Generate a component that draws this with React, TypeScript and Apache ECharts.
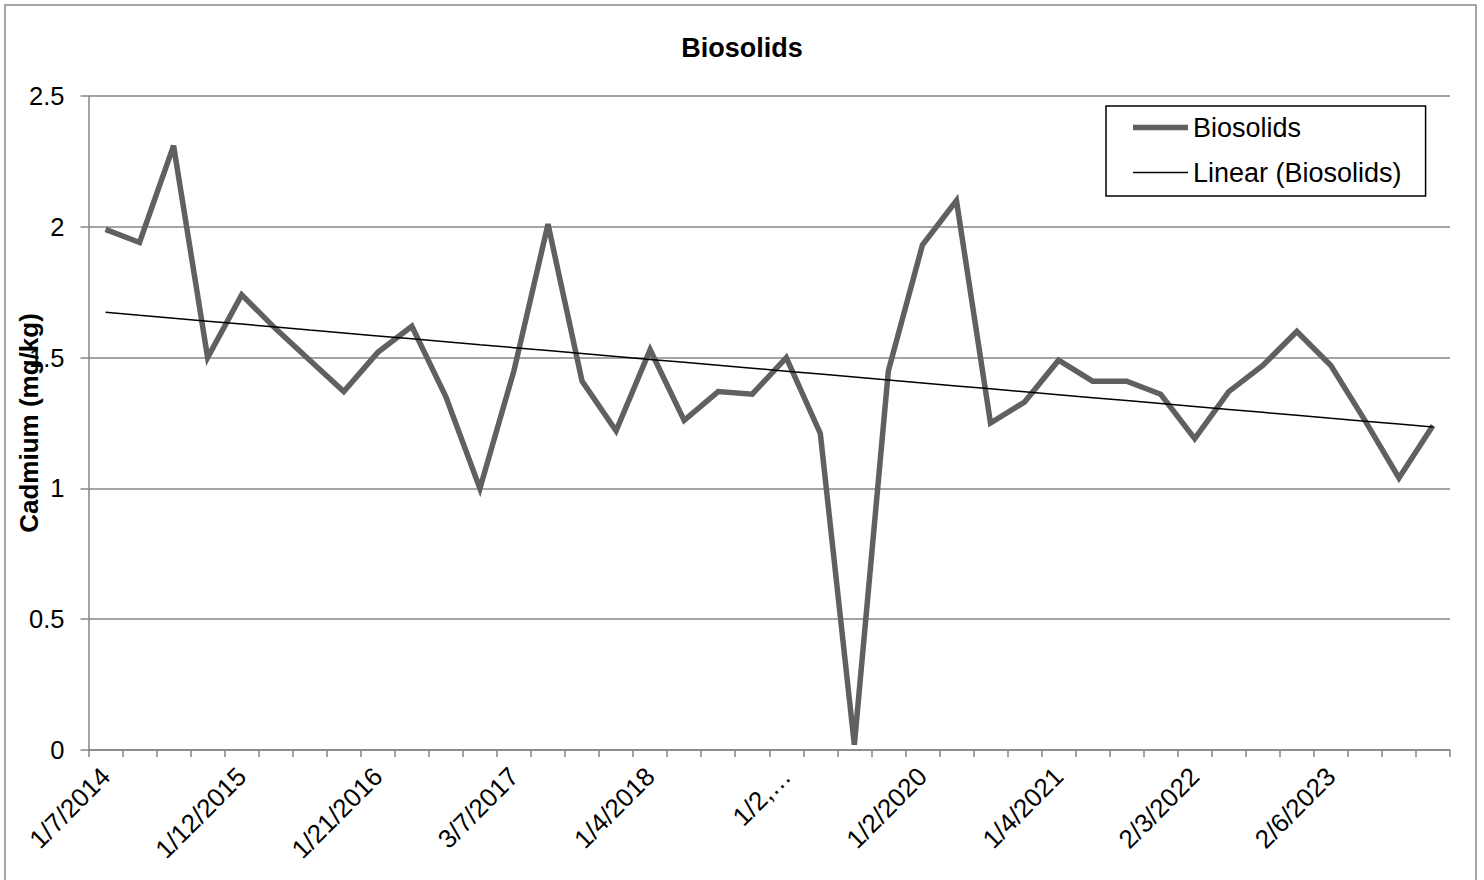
import React, { useEffect, useRef } from "react";
import * as echarts from "echarts";

// Category labels (only every 4th sample date is printed on the axis)
const categories: string[] = [
  "1/7/2014", "", "", "",
  "1/12/2015", "", "", "",
  "1/21/2016", "", "", "",
  "3/7/2017", "", "", "",
  "1/4/2018", "", "", "",
  "1/2,…", "", "", "",
  "1/2/2020", "", "", "",
  "1/4/2021", "", "", "",
  "2/3/2022", "", "", "",
  "2/6/2023", "", "", "",
];

// Cadmium (mg/kg) values
const biosolids: number[] = [
  1.99, 1.94, 2.31, 1.5, 1.74, 1.61, 1.49, 1.37, 1.52, 1.62,
  1.35, 1.0, 1.45, 2.01, 1.41, 1.22, 1.53, 1.26, 1.37, 1.36,
  1.5, 1.21, 0.02, 1.45, 1.93, 2.1, 1.25, 1.33, 1.49, 1.41,
  1.41, 1.36, 1.19, 1.37, 1.47, 1.6, 1.47, 1.26, 1.04, 1.24,
];

const yTicks = { min: 0, max: 2.5, interval: 0.5 };

function linearTrend(values: number[]): number[] {
  const n = values.length;
  let sx = 0, sy = 0, sxx = 0, sxy = 0;
  values.forEach((v, i) => {
    const x = i + 1;
    sx += x; sy += v; sxx += x * x; sxy += x * v;
  });
  const slope = (n * sxy - sx * sy) / (n * sxx - sx * sx);
  const intercept = (sy - slope * sx) / n;
  return values.map((_, i) => +(intercept + slope * (i + 1)).toFixed(4));
}

const FONT = "'Liberation Sans', Arial, sans-serif";

export default function App() {
  const ref = useRef<HTMLDivElement>(null);
  useEffect(() => {
    document.body.style.margin = "0";
    if (!ref.current) return;
    const chart = echarts.init(ref.current, undefined, { renderer: "svg" });
    const trend = linearTrend(biosolids);
    chart.setOption({
      animation: false,
      backgroundColor: "#ffffff",
      textStyle: { fontFamily: FONT },
      title: {
        text: "Biosolids",
        left: "center",
        top: 29,
        textStyle: { fontFamily: FONT, fontSize: 27, fontWeight: "bold", color: "#000" },
      },
      graphic: [
        {
          type: "rect",
          shape: { x: 5, y: 5, width: 1471, height: 880 },
          style: { fill: "none", stroke: "#8a8a8a", lineWidth: 1.5 },
          silent: true,
        },
      ],
      legend: {
        orient: "vertical",
        left: 1106,
        top: 106,
        padding: [8, 24, 10, 27],
        itemGap: 18,
        itemWidth: 55,
        itemHeight: 14,
        symbolKeepAspect: true,
        borderColor: "#000",
        borderWidth: 1.5,
        borderRadius: 0,
        textStyle: { fontFamily: FONT, fontSize: 27, color: "#000", lineHeight: 26 },
        data: [
          { name: "Biosolids", icon: "path://M0,0 L55,0 L55,5.5 L0,5.5 Z" },
          { name: "Linear (Biosolids)", icon: "path://M0,0 L55,0 L55,1.5 L0,1.5 Z" },
        ],
      },
      grid: { left: 88.5, right: 34, top: 96, bottom: 130, containLabel: false, outerBoundsMode: "none" },
      xAxis: {
        type: "category",
        data: categories,
        boundaryGap: true,
        axisLine: { show: true, lineStyle: { color: "#868686", width: 1.5 } },
        axisTick: { show: true, interval: 0, length: 7, lineStyle: { color: "#868686", width: 1.5 } },
        axisLabel: {
          interval: 3,
          rotate: 45,
          margin: 22,
          fontFamily: FONT,
          fontSize: 26,
          color: "#000",
        },
        splitLine: { show: false },
      },
      yAxis: {
        type: "value",
        min: yTicks.min,
        max: yTicks.max,
        interval: yTicks.interval,
        name: "Cadmium (mg/kg)",
        nameLocation: "middle",
        nameGap: 47,
        nameRotate: 90,
        nameMoveOverlap: false,
        nameTextStyle: { fontFamily: FONT, fontSize: 26, fontWeight: "bold", color: "#000" },
        axisLine: { show: true, lineStyle: { color: "#868686", width: 1.5 } },
        axisTick: { show: true, length: 8, lineStyle: { color: "#868686", width: 1.5 } },
        axisLabel: { margin: 24, fontFamily: FONT, fontSize: 25.5, color: "#000" },
        splitLine: { show: true, lineStyle: { color: "#868686", width: 1.5 } },
      },
      series: [
        {
          name: "Biosolids",
          type: "line",
          data: biosolids,
          symbol: "none",
          lineStyle: { color: "#606060", width: 5.5, join: "miter" },
          itemStyle: { color: "#606060" },
          z: 3,
        },
        {
          name: "Linear (Biosolids)",
          type: "line",
          data: trend,
          symbol: "none",
          lineStyle: { color: "#000", width: 1.5 },
          itemStyle: { color: "#000" },
          z: 4,
        },
      ],
    });
    return () => chart.dispose();
  }, []);
  return <div ref={ref} style={{ width: 1484, height: 880 }} />;
}
